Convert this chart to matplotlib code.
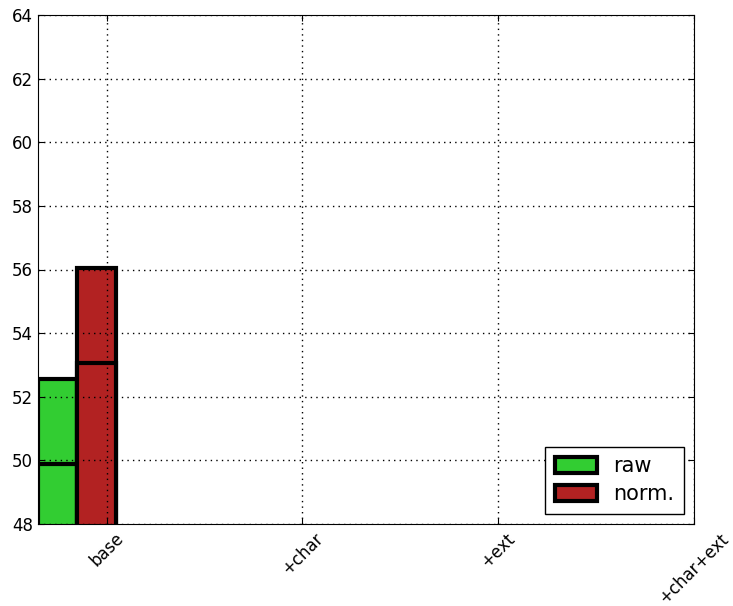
import matplotlib
matplotlib.use("Agg")
import matplotlib.pyplot as plt
import numpy as np

# data
labels = ["base", "+char", "+ext", "+char+ext"]
raw_scores = [52.55, 49.9]      # two runs drawn on top of each other
norm_scores = [56.05, 53.05]
bar_w = 0.2

plt.rcParams["font.size"] = 12

fig = plt.figure(figsize=(7.33, 6.06), dpi=100)
ax = fig.add_axes([38 / 733, 1 - 524 / 606, 656 / 733, 509 / 606])

for i, v in enumerate(raw_scores):
    ax.bar(0, v, bar_w, align="edge", color="limegreen", edgecolor="k",
           linewidth=3, label="raw" if i == 0 else None)
for i, v in enumerate(norm_scores):
    ax.bar(bar_w, v, bar_w, align="edge", color="firebrick", edgecolor="k",
           linewidth=3, label="norm." if i == 0 else None)

ax.set_xlim(0, 3.35)
ax.set_ylim(48, 64)
ax.set_yticks(np.arange(48, 65, 2))
ax.set_xticks(np.arange(len(labels)) + 0.35)
ax.set_xticklabels(labels, rotation=45)
ax.tick_params(direction="in", top=True, right=True, length=4)
ax.tick_params(axis="x", pad=4)
ax.grid(True, color="k", linestyle=(0, (1, 3)), linewidth=1)
ax.set_axisbelow(False)

leg = ax.legend(loc="lower right", fancybox=False, framealpha=1,
                edgecolor="k", fontsize=15, borderpad=0.45,
                labelspacing=0.4, handletextpad=0.8, handleheight=0.8)
leg.get_frame().set_linewidth(1)

fig.savefig("out.png", dpi=100)
